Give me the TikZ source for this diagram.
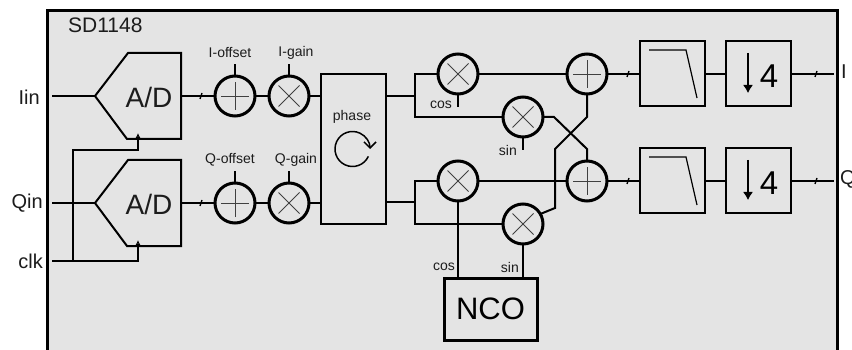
\documentclass[tikz,border=0pt]{standalone}
\usepackage{fontspec}
\setmainfont{Liberation Sans}
\usepackage{xcolor}
\usetikzlibrary{arrows.meta, calc}
\definecolor{mygray}{HTML}{E4E4E4}
\definecolor{mytext}{HTML}{1C1C1C}
\tikzset{
  >=latex,
  % Nodi
  node ring/.style={circle,draw=black,line width=3,minimum size=40,inner sep=0,outer sep=0},
  node sum/.style={node ring,path picture={
    \draw[line width=0.9,black!75] ([xshift=-14]path picture bounding box.center) -- ([xshift=14]path picture bounding box.center);
    \draw[line width=0.9,black!75] ([yshift=-14]path picture bounding box.center) -- ([yshift=14]path picture bounding box.center);}},
  node mult/.style={node ring,path picture={
    \draw[line width=0.9,black!75] ($(path picture bounding box.center)+(-10.5,-10.5)$) -- ($(path picture bounding box.center)+(10.5,10.5)$);
    \draw[line width=0.9,black!75] ($(path picture bounding box.center)+(-10.5,10.5)$) -- ($(path picture bounding box.center)+(10.5,-10.5)$);}},
  node block/.style={draw=black,line width=2,inner sep=0,outer sep=0},
  % Testi
  label big/.style={text=mytext,font=\fontsize{20}{20}\selectfont,inner sep=0},
  label small/.style={text=mytext,font=\fontsize{14}{14}\selectfont,inner sep=0},
  % Connessioni
  connect/.style={line width=2,black},
  connect arrow/.style={-{Latex[open,length=5,width=5]},line width=1.5,black}
}
\begin{document}
\begin{tikzpicture}[x=1pt,y=-1pt]
  \useasboundingbox (0,0) rectangle (852,350);
  \fill[mygray] (47,11) rectangle (837,350);
  \draw[line width=3] (47,350) -- (47,11) -- (837,11) -- (837,350);
  \node[label big,font=\fontsize{21}{21}\selectfont,anchor=west] (chip) at (68,25) {SD1148};

  % Ingressi e uscite
  \node[label big,anchor=east] (iin) at (40,97) {Iin};
  \node[label big,anchor=east] (qin) at (43,203) {Qin};
  \node[label big,anchor=east] (clk) at (43,261) {clk};
  \node[label big,anchor=west] (iout) at (841,72) {I};
  \node[label big,anchor=west] (qout) at (840,179) {Q};
  \coordinate (iinend) at (52,96);
  \coordinate (qinend) at (52,203);
  \coordinate (clkend) at (52,261);
  \coordinate (clkjoin) at (73,261);
  \coordinate (ioutend) at (834,74);
  \coordinate (qoutend) at (834,181);

  % Convertitori
  \foreach \nm/\py in {adi/96, adq/203}{
    \draw[connect,line join=miter] (95,\py) -- (128,\py-43) -- (181,\py-43) -- (181,\py+43) -- (127,\py+43) -- cycle;
    \node[text=mytext,font=\fontsize{28}{28}\selectfont,inner sep=0] (\nm) at (149,\py+1) {A/D};
    \coordinate (\nm tip) at (95,\py);
    \coordinate (\nm out) at (181,\py);
    \coordinate (\nm clk) at (138,\py+37);
  }

  % Somme e prodotti
  \node[node sum] (ioffs) at (235,96) {};
  \node[node mult] (igain) at (289,96) {};
  \node[node sum] (qoffs) at (235,203) {};
  \node[node mult] (qgain) at (289,203) {};
  \node[node mult] (mixa) at (458,74) {};
  \node[node mult] (mixb) at (523,117) {};
  \node[node mult] (mixc) at (458,181) {};
  \node[node mult] (mixd) at (523,224) {};
  \node[node sum] (sumi) at (587,74) {};
  \node[node sum] (sumq) at (587,181) {};

  \node[label small] (ioffslab) at (230,53) {I-offset};
  \node[label small] (igainlab) at (296,53) {I-gain};
  \node[label small] (qoffslab) at (230,160) {Q-offset};
  \node[label small] (qgainlab) at (296,160) {Q-gain};
  \foreach \nm in {ioffs, igain, qoffs, qgain}{
    \draw[connect] (\nm.north) -- ++(0,-12);
  }

  % Blocchi
  \node[node block,minimum width=65,minimum height=150] (phase) at (353.5,149) {};
  \node[label small] (phaselab) at (352,117) {phase};
  \draw[-{Straight Barb[length=6,width=12]},line width=1.5] (352.5,149) ++(25:17.5) arc (25:360:17.5);
  \foreach \nm/\py in {i/74, q/181}{
    \node[node block,minimum size=65] (lpf\nm) at (672.5,\py) {};
    \node[node block,minimum size=65] (dec\nm) at (758.5,\py) {};
    \draw[line width=1.2] (649,\py-24) -- (686,\py-24) -- (697,\py+24);
    \draw[-{Latex[length=8,width=10]},line width=1.2] (748,\py-21) -- (748,\py+19);
    \node[text=black,font=\fontsize{33}{33}\selectfont,inner sep=0] (four\nm) at (769,\py+2) {4};
  }
  \node[draw=black,line width=3,minimum width=93,minimum height=62,inner sep=0,outer sep=0,
        text=black,font=\fontsize{31}{31}\selectfont] (nco) at (490.5,309) {NCO};
  \node[label small,anchor=east] (coslab) at (455,267) {cos};
  \node[label small,anchor=east] (sinlab) at (519,267) {sin};
  \node[label small,anchor=east] (cosup) at (452,105) {cos};
  \node[label small,anchor=east] (sinup) at (517,150) {sin};

  % Connessioni
  \draw[connect] (iinend) -- (aditip);
  \draw[connect] (qinend) -- (adqtip);
  \draw[connect] (adiout) -- (ioffs.west);
  \draw[connect] (adqout) -- (qoffs.west);
  \draw[connect] (ioffs) -- (igain);
  \draw[connect] (qoffs) -- (qgain);
  \draw[connect] (igain.east) -- (phase.west |- igain);
  \draw[connect] (qgain.east) -- (phase.west |- qgain);
  \draw[connect] (clkend) -- (clkjoin) -- (138,261) -- (adqclk |- 0,245);
  \draw[connect arrow] (138,246) -- (adqclk);
  \draw[connect] (clkjoin) -- (73,150) -- (138,150) -- (138,140);
  \draw[connect arrow] (138,140) -- (adiclk);

  \draw[connect] (phase.east |- 0,96) -- (415,96);
  \draw[connect] (mixa.west) -- (415,74) -- (415,117) -- (mixb.west);
  \draw[connect] (phase.east |- 0,202) -- (415,202);
  \draw[connect] (mixc.west) -- (415,181) -- (415,224) -- (mixd.west);
  \draw[connect] (mixa.south) -- ++(0,13);
  \draw[connect] (mixb.south) -- ++(0,13);
  \draw[connect] (mixc.south) -- (nco.north -| mixc);
  \draw[connect] (mixd.south) -- (nco.north -| mixd);
  \draw[connect] (mixa.east) -- (sumi.west);
  \draw[connect] (mixc.east) -- (sumq.west);
  \draw[connect,line join=miter] (mixb.east) -- (554,117) -- (587,149) -- (sumq.north);
  \draw[connect,line join=miter] (sumi.south) -- (587,117) -- (555,149) -- (555,208) -- (mixd.30);
  \draw[connect] (sumi.east) -- (lpfi.west);
  \draw[connect] (sumq.east) -- (lpfq.west);
  \draw[connect] (lpfi.east) -- (deci.west);
  \draw[connect] (lpfq.east) -- (decq.west);
  \draw[connect] (deci.east) -- (ioutend);
  \draw[connect] (decq.east) -- (qoutend);

  % Tacche sui bus
  \foreach \px/\py in {201/96, 201/203, 628/74, 628/181, 816/74, 816/181}{
    \draw[line width=1.4] (\px-1,\py+3) -- (\px+1,\py-3);
  }
\end{tikzpicture}
\end{document}
